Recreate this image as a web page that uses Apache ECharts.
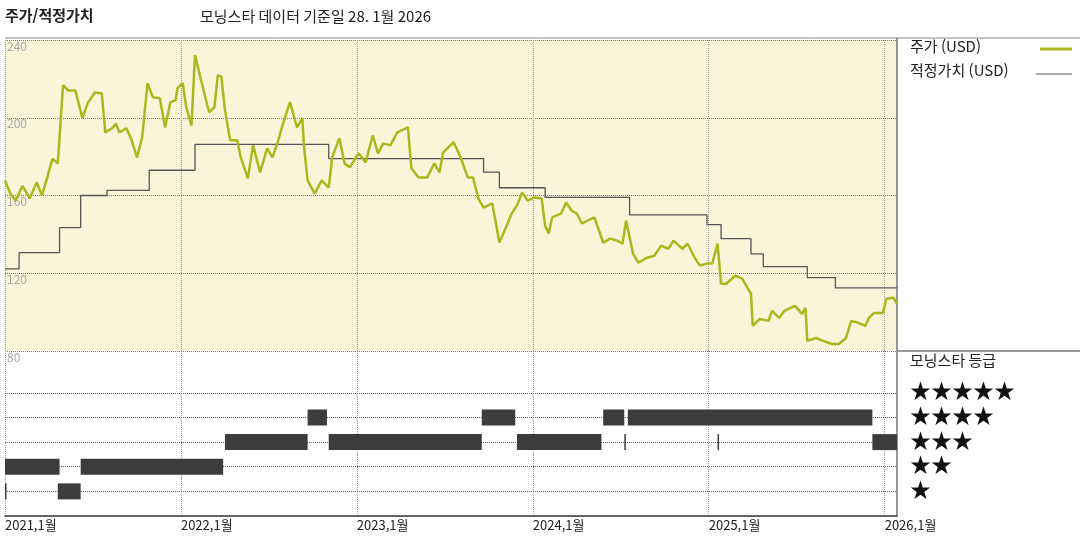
<!DOCTYPE html>
<html lang="ko">
<head>
<meta charset="UTF-8" />
<title>주가/적정가치</title>
<style>
  html, body { margin: 0; padding: 0; background: #fff; }
  #chart { width: 1080px; height: 540px; }
</style>
</head>
<body>
<div id="chart"></div>
<script src="https://cdn.jsdelivr.net/npm/echarts@6/dist/echarts.min.js"></script>
<script>
// 시간은 소수 연도 (2021.00 = 2021년 1월)
var priceT = [2021.00, 2021.03, 2021.06, 2021.10, 2021.14, 2021.18, 2021.21, 2021.24, 2021.27, 2021.30,
  2021.33, 2021.36, 2021.40, 2021.44, 2021.47, 2021.51, 2021.55, 2021.57, 2021.61, 2021.63,
  2021.65, 2021.69, 2021.72, 2021.75, 2021.78, 2021.81, 2021.84, 2021.88, 2021.91, 2021.94,
  2021.97, 2021.98, 2022.01, 2022.03, 2022.06, 2022.08, 2022.11, 2022.14, 2022.16, 2022.19,
  2022.21, 2022.23, 2022.25, 2022.28, 2022.32, 2022.34, 2022.38, 2022.41, 2022.45, 2022.49,
  2022.52, 2022.55, 2022.58, 2022.62, 2022.66, 2022.69, 2022.70, 2022.72, 2022.76, 2022.80,
  2022.84, 2022.86, 2022.90, 2022.93, 2022.96, 2023.01, 2023.05, 2023.09, 2023.12, 2023.15,
  2023.19, 2023.23, 2023.29, 2023.31, 2023.35, 2023.40, 2023.44, 2023.47, 2023.49, 2023.55,
  2023.59, 2023.63, 2023.66, 2023.69, 2023.72, 2023.77, 2023.81, 2023.84, 2023.88, 2023.91,
  2023.94, 2023.97, 2024.01, 2024.05, 2024.07, 2024.09, 2024.11, 2024.16, 2024.19, 2024.22,
  2024.25, 2024.28, 2024.31, 2024.35, 2024.40, 2024.44, 2024.48, 2024.51, 2024.53, 2024.57,
  2024.60, 2024.65, 2024.69, 2024.73, 2024.77, 2024.80, 2024.85, 2024.88, 2024.92, 2024.95,
  2024.99, 2025.02, 2025.05, 2025.07, 2025.10, 2025.15, 2025.19, 2025.22, 2025.24, 2025.25,
  2025.29, 2025.34, 2025.36, 2025.40, 2025.43, 2025.49, 2025.53, 2025.55, 2025.56, 2025.61,
  2025.65, 2025.70, 2025.74, 2025.78, 2025.81, 2025.85, 2025.89, 2025.91, 2025.94, 2025.99,
  2026.01, 2026.05, 2026.07];
var priceV = [167.8, 161, 157.4, 165, 158.5, 166.7, 160, 169.3, 179, 176.5,
  216.8, 214, 214, 199.8, 207.5, 213, 212.6, 192.5, 194.6, 197,
  192.5, 194.6, 188.4, 179.6, 190, 217.8, 210.6, 210, 195, 208,
  209, 215.2, 217.8, 205.4, 196, 232.3, 221, 210, 202.8, 205.4,
  222, 221, 204, 188.4, 188.4, 179.6, 168.8, 185.8, 171.9, 184.3,
  179.6, 187.4, 197, 208, 195, 199.8, 184.8, 167.8, 161, 167.8,
  164, 179.6, 189.4, 176.5, 174.5, 181.7, 177, 191, 181.7, 186.8,
  185.8, 192.5, 195, 174, 169.3, 169.3, 176.5, 171.9, 182.2, 187.4,
  179.6, 169.3, 169.3, 158.5, 153.8, 155.9, 135.8, 142, 150.7, 154.9,
  161.6, 157.4, 159, 158.5, 144.5, 140.4, 148.7, 150.7, 156.4, 152.3,
  150.7, 145.6, 147.1, 148.7, 135.8, 137.8, 136.8, 135.2, 147.1, 130,
  125.4, 128, 129, 134.2, 132.6, 136.8, 132.6, 135.2, 128, 123.9,
  125, 125, 135.2, 114.6, 114.6, 118.7, 117.2, 112.5, 109.5, 93,
  96.5, 95.5, 100.7, 97, 100.7, 103.2, 99.1, 102.2, 85.2, 86.7,
  85.2, 83.6, 83.6, 86.7, 95.5, 94.5, 93, 97, 99.6, 99.6,
  106.9, 107.4, 104.3];

var fairT = [2021.00, 2021.08, 2021.31, 2021.43, 2021.58, 2021.82, 2022.08, 2022.84, 2023.72, 2023.81,
  2024.07, 2024.55, 2024.99, 2025.07, 2025.24, 2025.31, 2025.56, 2025.72, 2026.07];
var fairV = [122.3, 130.6, 143.5, 160, 162.6, 173, 186.3, 179, 172, 164,
  159, 150, 145, 137.8, 130, 123.4, 117.7, 112.5, 112.5];

// 모닝스타 등급 구간: [시작, 끝, 별 개수]
var ratingStart = [2021.00, 2021.30, 2021.00, 2021.43, 2022.25, 2022.72, 2022.84, 2023.71, 2023.91, 2024.40, 2024.52, 2024.54, 2025.05, 2025.93];
var ratingEnd   = [2021.003, 2021.43, 2021.31, 2022.24, 2022.72, 2022.83, 2023.71, 2023.90, 2024.39, 2024.52, 2024.525, 2025.93, 2025.055, 2026.07];
var ratingStars = [1, 1, 2, 2, 3, 4, 3, 4, 3, 4, 3, 4, 3, 3];

var yTicks = [80, 120, 160, 200, 240];
var yearLabels = ['2021,1월', '2022,1월', '2023,1월', '2024,1월', '2025,1월', '2026,1월'];

var chart = echarts.init(document.getElementById('chart'));
var font = '"Noto Sans CJK KR", "DejaVu Sans", sans-serif';
var xMin = 2021, xMax = 2026.07;

var ratingData = ratingStart.map(function (s, i) { return [s, ratingEnd[i], ratingStars[i]]; });

var starRows = [5, 4, 3, 2, 1];
var graphics = [
  { type: 'text', left: 5, top: 8, style: { text: '주가/적정가치', font: 'bold 15px ' + font, fill: '#222' } },
  { type: 'text', left: 200, top: 9, style: { text: '모닝스타 데이터 기준일 28. 1월 2026', font: '15px ' + font, fill: '#222' } },
  { type: 'line', shape: { x1: 5, y1: 38, x2: 1080, y2: 38 }, style: { stroke: '#888', lineWidth: 1 } },
  { type: 'line', shape: { x1: 897, y1: 38, x2: 897, y2: 516 }, style: { stroke: '#333', lineWidth: 1 } },
  { type: 'line', shape: { x1: 897, y1: 351, x2: 1080, y2: 351 }, style: { stroke: '#333', lineWidth: 1 } },
  { type: 'text', left: 910, top: 39, style: { text: '주가 (USD)', font: '15px ' + font, fill: '#222' } },
  { type: 'line', shape: { x1: 1040, y1: 49, x2: 1072, y2: 49 }, style: { stroke: '#a9b81d', lineWidth: 3 } },
  { type: 'text', left: 910, top: 63, style: { text: '적정가치 (USD)', font: '15px ' + font, fill: '#222' } },
  { type: 'line', shape: { x1: 1036, y1: 74, x2: 1072, y2: 74 }, style: { stroke: '#555', lineWidth: 1 } },
  { type: 'text', left: 910, top: 353, style: { text: '모닝스타 등급', font: '15px ' + font, fill: '#222' } }
];
starRows.forEach(function (n, i) {
  graphics.push({ type: 'text', left: 910, top: 380 + i * 24.6,
    style: { text: new Array(n + 1).join('★'), font: '21px ' + font, fill: '#111' } });
});

var option = {
  animation: false,
  backgroundColor: '#fff',
  graphic: graphics,
  grid: [
    { left: 5, right: 183, top: 40, height: 311, show: true, backgroundColor: '#f8f5d9', borderWidth: 0 },
    { left: 5, right: 183, top: 351, height: 165, show: false }
  ],
  xAxis: [
    { type: 'value', gridIndex: 0, min: xMin, max: xMax, interval: 1,
      axisLine: { show: false }, axisTick: { show: false }, axisLabel: { show: false },
      splitLine: { show: true, lineStyle: { type: 'dotted', color: '#999' } } },
    { type: 'value', gridIndex: 1, min: xMin, max: xMax, interval: 1,
      axisLine: { show: true, onZero: false, lineStyle: { color: '#333', width: 1.5 } },
      axisTick: { show: false },
      axisLabel: { show: true, align: 'left', margin: 3, color: '#222', fontSize: 13, fontFamily: font,
        formatter: function (v) { var i = Math.round(v - 2021); return yearLabels[i] || ''; } },
      splitLine: { show: true, lineStyle: { type: 'dotted', color: '#999' } } }
  ],
  yAxis: [
    { type: 'value', gridIndex: 0, min: 80, max: 240, interval: 40,
      axisLine: { show: false }, axisTick: { show: false },
      axisLabel: { inside: true, verticalAlign: 'top', margin: 2, color: '#aaa', fontSize: 12, fontFamily: font,
        formatter: function (v) { return yTicks.indexOf(v) >= 0 ? String(v) : ''; } },
      splitLine: { show: true, lineStyle: { type: 'dotted', color: '#777' } } },
    { type: 'value', gridIndex: 1, min: 0, max: 6.7,
      axisLine: { show: false }, axisTick: { show: false }, axisLabel: { show: false },
      splitLine: { show: false } }
  ],
  series: [
    { name: '적정가치 (USD)', type: 'line', xAxisIndex: 0, yAxisIndex: 0, step: 'end', symbol: 'none',
      lineStyle: { color: '#555', width: 1.3 },
      data: fairT.map(function (t, i) { return [t, fairV[i]]; }) },
    { name: '주가 (USD)', type: 'line', xAxisIndex: 0, yAxisIndex: 0, symbol: 'none',
      lineStyle: { color: '#a9b81d', width: 2.5 },
      data: priceT.map(function (t, i) { return [t, priceV[i]]; }) },
    { name: '등급선', type: 'line', xAxisIndex: 1, yAxisIndex: 1, z: 1, data: [],
      markLine: { silent: true, symbol: 'none', label: { show: false }, z: 1,
        lineStyle: { type: 'dotted', color: '#666', width: 1 },
        data: starRows.map(function (n) { return { yAxis: n }; }) } },
    { name: '모닝스타 등급', type: 'custom', xAxisIndex: 1, yAxisIndex: 1, z: 5,
      renderItem: function (params, api) {
        var a = api.coord([api.value(0), api.value(2)]);
        var b = api.coord([api.value(1), api.value(2)]);
        var w = Math.max(b[0] - a[0], 1.5);
        return { type: 'rect', z2: 10, shape: { x: a[0], y: a[1] - 8, width: w, height: 16 },
          style: { fill: '#3c3c3c' } };
      },
      encode: { x: [0, 1], y: 2 },
      data: ratingData }
  ]
};
chart.setOption(option);
</script>
</body>
</html>
